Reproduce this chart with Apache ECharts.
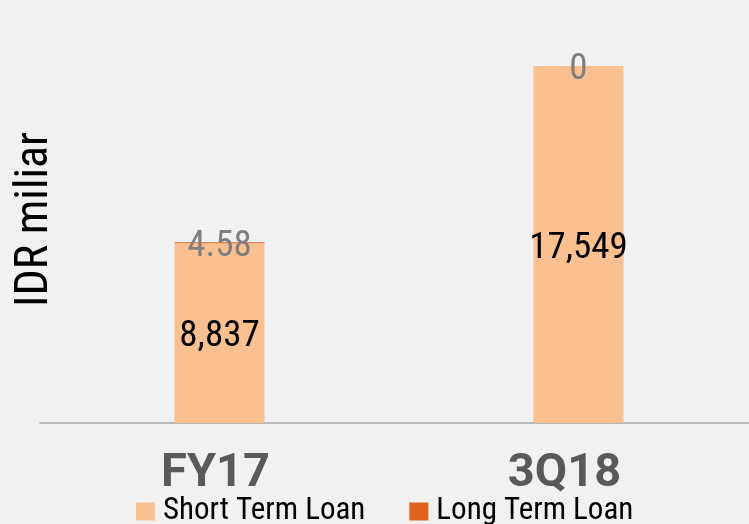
<!DOCTYPE html>
<html>
<head>
<meta charset="utf-8">
<script src="https://cdn.jsdelivr.net/npm/echarts@6/dist/echarts.min.js"></script>
<style>
html,body{margin:0;padding:0;background:#f1f1f1;}
#container{width:749px;height:524px;}
</style>
</head>
<body>
<div id="container"></div>
<script>
	var categories = ['FY17', '3Q18'];
	var shortTerm = [8837, 17549];
	var longTerm = [4.58, 0];
	var seriesNames = ['Short Term Loan', 'Long Term Loan'];

	var FONT = '"Roboto Condensed", "Liberation Sans Narrow", "DejaVu Sans Condensed", Roboto, sans-serif';
	var LONG_COLOR = '#e0621f';

	function fmt(v){
		return v >= 1000 ? v.toLocaleString('en-US') : String(v);
	}

	//zero-valued segment stays invisible, non-zero one gets at least 1px
	var longData = longTerm.map(function(v){
		return { value: v, itemStyle: { color: v > 0 ? LONG_COLOR : 'rgba(0,0,0,0)' } };
	});

	var myChart = echarts.init(document.getElementById('container'));
	var option = {
		backgroundColor: '#f1f1f1',
		animation: false,
		grid: {
			left: 40,
			top: 16,
			width: 718,
			height: 407,
			containLabel: false,
			outerBoundsMode: 'none'
		},
		legend: {
			left: 131,
			top: 491,
			itemWidth: 19,
			itemHeight: 18,
			itemGap: 44,
			icon: 'rect',
			textStyle: { fontFamily: FONT, fontSize: 31, color: '#000', padding: [0, 0, 0, 3] },
			data: seriesNames
		},
		xAxis: {
			type: 'category',
			data: categories,
			axisLine: { lineStyle: { color: '#a6a6a6', width: 1.5 } },
			axisTick: { show: false },
			axisLabel: {
				margin: 28,
				formatter: function(v, i){ return '{c' + i + '|' + v + '}'; },
				rich: {
					c0: { fontFamily: 'Roboto, sans-serif', fontWeight: 'bold', fontSize: 47, color: '#595959', padding: [0, 8, 0, 0] },
					c1: { fontFamily: 'Roboto, sans-serif', fontWeight: 'bold', fontSize: 47, color: '#595959', padding: [0, 28, 0, 0] }
				}
			}
		},
		yAxis: {
			type: 'value',
			min: 0,
			max: 20000,
			name: 'IDR miliar',
			nameLocation: 'middle',
			nameGap: -18,
			nameRotate: 90,
			nameTextStyle: { fontFamily: FONT, fontSize: 46, color: '#000' },
			axisLine: { show: false },
			axisTick: { show: false },
			axisLabel: { show: false },
			splitLine: { show: false }
		},
		series: [{
			name: seriesNames[0],
			type: 'bar',
			stack: 'loan',
			barWidth: 90,
			data: shortTerm,
			itemStyle: { color: '#fbc08f' },
			label: {
				show: true,
				position: 'inside',
				offset: [0, 4],
				fontFamily: FONT,
				fontSize: 37,
				color: '#000',
				formatter: function(p){ return fmt(p.value); }
			}
		}, {
			name: seriesNames[1],
			type: 'bar',
			stack: 'loan',
			barWidth: 90,
			barMinHeight: 1,
			data: longData,
			itemStyle: { color: LONG_COLOR },
			label: {
				show: true,
				position: 'inside',
				offset: [0, 4],
				fontFamily: FONT,
				fontSize: 37,
				color: '#7f7f7f',
				formatter: function(p){ return fmt(p.value); }
			}
		}]
	};
	myChart.setOption(option);
</script>
</body>
</html>
